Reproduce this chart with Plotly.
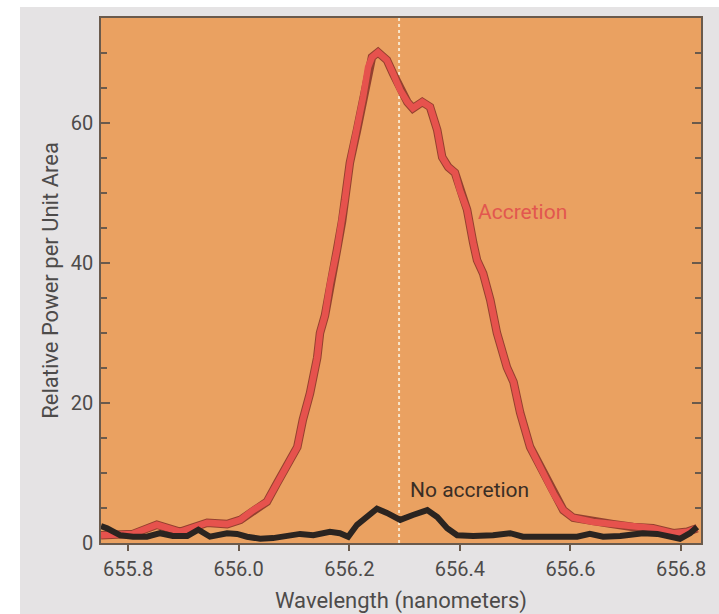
import plotly.graph_objects as go

# H-alpha line profiles (wavelength in nm, relative power per unit area)
accretion_wl = [
    655.751, 655.809, 655.852, 655.894, 655.943, 655.979, 656.003, 656.026,
    656.051, 656.069, 656.088, 656.106, 656.116, 656.129, 656.142, 656.147,
    656.156, 656.165, 656.178, 656.187, 656.192, 656.201, 656.214, 656.225,
    656.234, 656.241, 656.252, 656.268, 656.279, 656.292, 656.305, 656.315,
    656.332, 656.346, 656.359, 656.368, 656.379, 656.391, 656.400, 656.413,
    656.424, 656.431, 656.442, 656.455, 656.467, 656.485, 656.497, 656.509,
    656.527, 656.550, 656.569, 656.587, 656.605, 656.641, 656.677, 656.713,
    656.749, 656.786, 656.811, 656.829,
]
accretion_power = [
    1.1, 1.3, 2.6, 1.6, 2.9, 2.7, 3.3, 4.7,
    5.9, 8.5, 11.4, 13.7, 17.6, 21.4, 26.5, 30.0,
    32.5, 37.0, 42.0, 46.0, 49.0, 54.3, 59.0, 63.7,
    68.0, 69.4, 70.1, 69.0, 67.1, 64.7, 63.0, 62.1,
    63.0, 62.3, 59.0, 55.1, 53.7, 52.9, 50.4, 47.6,
    42.9, 40.4, 38.5, 34.7, 30.0, 25.1, 23.0, 18.6,
    13.7, 10.0, 7.1, 4.7, 3.6, 3.0, 2.7, 2.3,
    2.1, 1.4, 1.6, 2.1,
]

no_accretion_wl = [
    655.751, 655.762, 655.786, 655.809, 655.834, 655.858, 655.881, 655.907,
    655.927, 655.948, 655.979, 655.997, 656.015, 656.039, 656.062, 656.088,
    656.111, 656.135, 656.165, 656.183, 656.198, 656.214, 656.232, 656.250,
    656.268, 656.286, 656.292, 656.315, 656.341, 656.359, 656.377, 656.395,
    656.424, 656.460, 656.491, 656.514, 656.545, 656.576, 656.612, 656.635,
    656.659, 656.690, 656.731, 656.757, 656.780, 656.798, 656.816, 656.829,
]
no_accretion_power = [
    2.4, 2.1, 1.1, 0.9, 0.9, 1.4, 1.0, 1.0,
    1.9, 0.9, 1.4, 1.3, 0.9, 0.6, 0.7, 1.1,
    1.3, 1.1, 1.6, 1.4, 0.9, 2.6, 3.7, 4.9,
    4.3, 3.4, 3.3, 4.0, 4.7, 3.7, 2.1, 1.1,
    1.0, 1.1, 1.4, 0.9, 0.9, 0.9, 0.9, 1.3,
    0.9, 1.0, 1.4, 1.3, 1.0, 0.6, 1.4, 2.3,
]

rest_wavelength = 656.29
x_ticks = [655.8, 656.0, 656.2, 656.4, 656.6, 656.8]
x_tick_text = ["655.8", "656.0", "656.2", "656.4", "656.6", "656.8"]
y_ticks = [0, 20, 40, 60]

ORANGE = "#EAA161"
CARD = "#E5E3E4"
AXIS = "#6a5a4c"
TEXT = "#4d4b4a"
FONT = "Roboto, Arial, sans-serif"

fig = go.Figure()

# dark edge beneath the accretion profile
fig.add_trace(go.Scatter(
    x=accretion_wl, y=accretion_power, mode="lines",
    line=dict(color="#94402f", width=8.5),
    hoverinfo="skip", showlegend=False,
))
fig.add_trace(go.Scatter(
    x=accretion_wl, y=accretion_power, mode="lines",
    line=dict(color="#E6524D", width=6.5),
    name="Accretion", showlegend=False,
))
fig.add_trace(go.Scatter(
    x=no_accretion_wl, y=no_accretion_power, mode="lines",
    line=dict(color="#2b2420", width=6),
    name="No accretion", showlegend=False,
))

# white page strips outside the grey card (top and left)
fig.add_shape(type="rect", xref="paper", yref="paper",
              x0=-0.3, x1=1.1, y0=1.021, y1=1.1,
              fillcolor="white", line_width=0, layer="below")
fig.add_shape(type="rect", xref="paper", yref="paper",
              x0=-0.3, x1=-0.135, y0=-0.2, y1=1.1,
              fillcolor="white", line_width=0, layer="below")

# rest wavelength marker
fig.add_shape(
    type="line", xref="x", yref="paper",
    x0=rest_wavelength, x1=rest_wavelength, y0=0, y1=1,
    line=dict(color="#F8E6CC", width=2, dash="dot"),
    layer="below",
)

fig.add_annotation(x=656.5125, y=47.3, text="Accretion", showarrow=False,
                   font=dict(family=FONT, size=21, color="#E2574F"))
fig.add_annotation(x=656.4166, y=7.6, text="No accretion", showarrow=False,
                   font=dict(family=FONT, size=21, color="#3a2e25"))

fig.update_layout(
    width=719, height=614,
    margin=dict(l=101, r=18, t=18, b=71, autoexpand=False),
    paper_bgcolor=CARD,
    plot_bgcolor=ORANGE,
    font=dict(family=FONT, color=TEXT),
    showlegend=False,
)

fig.update_xaxes(
    range=[655.751, 656.836],
    tickvals=x_ticks, ticktext=x_tick_text,
    ticks="outside", ticklen=6, tickwidth=1.5, tickcolor=AXIS,
    tickfont=dict(size=20, color=TEXT),
    ticklabelstandoff=1,
    showline=True, linecolor=AXIS, linewidth=1.5, mirror=True,
    showgrid=False, zeroline=False, automargin=False,
    title=dict(text="Wavelength (nanometers)", font=dict(size=22, color=TEXT), standoff=18),
)

fig.update_yaxes(
    range=[0, 75],
    tickvals=y_ticks,
    ticks="inside", ticklen=9, tickwidth=1.5, tickcolor=AXIS,
    minor=dict(dtick=5, ticks="inside", ticklen=6, tickwidth=1.5, tickcolor=AXIS),
    tickfont=dict(size=20, color=TEXT),
    ticklabelstandoff=2,
    showline=True, linecolor=AXIS, linewidth=1.5, mirror="ticks",
    showgrid=False, zeroline=False, automargin=False,
    title=dict(text="Relative Power per Unit Area", font=dict(size=22, color=TEXT), standoff=6),
)

fig.write_html("out.html")
